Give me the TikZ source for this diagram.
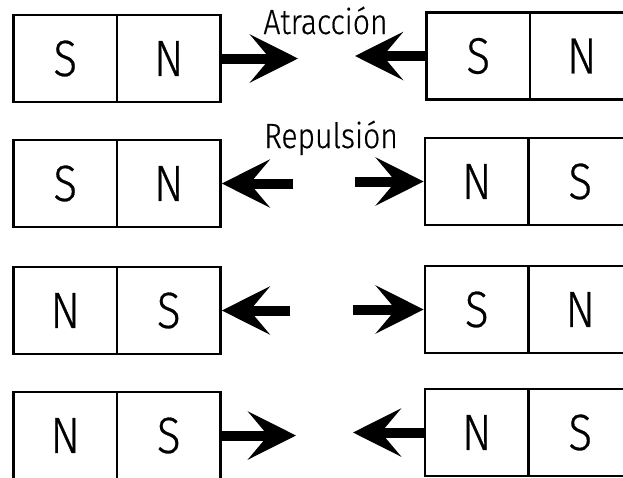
\documentclass[tikz,border=0pt]{standalone}
\usepackage{fontspec}
\usetikzlibrary{arrows.meta}
\newfontfamily\magfont{Fira Sans}[UprightFont=* Light, FakeStretch=0.86, FakeBold=0.5]
\tikzset{
  half/.style={draw, line width=2.6pt, minimum width=103.5pt, minimum height=87pt,
    inner sep=0pt, font=\magfont\fontsize{51}{51}\selectfont},
  pushar/.style={line width=10pt,
    -{Stealth[length=48pt, width=48pt, inset=20pt]}},
  lbl/.style={anchor=base, inner sep=0pt, font=\magfont\fontsize{35}{35}\selectfont}
}
\begin{document}
\begin{tikzpicture}[x=1pt, y=-1pt]
\clip (0,0) rectangle (623,477);
\fill[white] (0,0) rectangle (623,477);

% Row 1
\node[half] (a1) at (65.25,58.5) {S};
\node[half] (b1) at (168.75,58.5) {N};
\node[half] (c1) at (478.25,56) {S};
\node[half] (d1) at (581.75,56) {N};
\coordinate (p1) at (298,58.5);
\coordinate (q1) at (355,56);
\draw[pushar] (b1.east) -- (p1);
\draw[pushar] (c1.west) -- (q1);
\node[lbl] (t1) at (325.5,34) {Atracción};

% Row 2
\node[half] (a2) at (65.25,183.5) {S};
\node[half] (b2) at (168.75,183.5) {N};
\node[half] (c2) at (476.75,181.5) {N};
\node[half] (d2) at (580.25,181.5) {S};
\coordinate (p2) at (293,183.5);
\coordinate (q2) at (355,181.5);
\draw[pushar] (p2) -- (b2.east);
\draw[pushar] (q2) -- (c2.west);
\node[lbl] (t2) at (331,148) {Repulsión};

% Row 3
\node[half] (a3) at (65.25,310.5) {N};
\node[half] (b3) at (168.75,310.5) {S};
\node[half] (c3) at (476.75,309.5) {S};
\node[half] (d3) at (580.25,309.5) {N};
\coordinate (p3) at (290,310.5);
\coordinate (q3) at (353,309.5);
\draw[pushar] (p3) -- (b3.east);
\draw[pushar] (q3) -- (c3.west);

% Row 4
\node[half] (a4) at (65.25,435.5) {N};
\node[half] (b4) at (168.75,435.5) {S};
\node[half] (c4) at (476.75,432.5) {N};
\node[half] (d4) at (580.25,432.5) {S};
\coordinate (p4) at (296,435.5);
\coordinate (q4) at (353,432.5);
\draw[pushar] (b4.east) -- (p4);
\draw[pushar] (c4.west) -- (q4);
\end{tikzpicture}
\end{document}
